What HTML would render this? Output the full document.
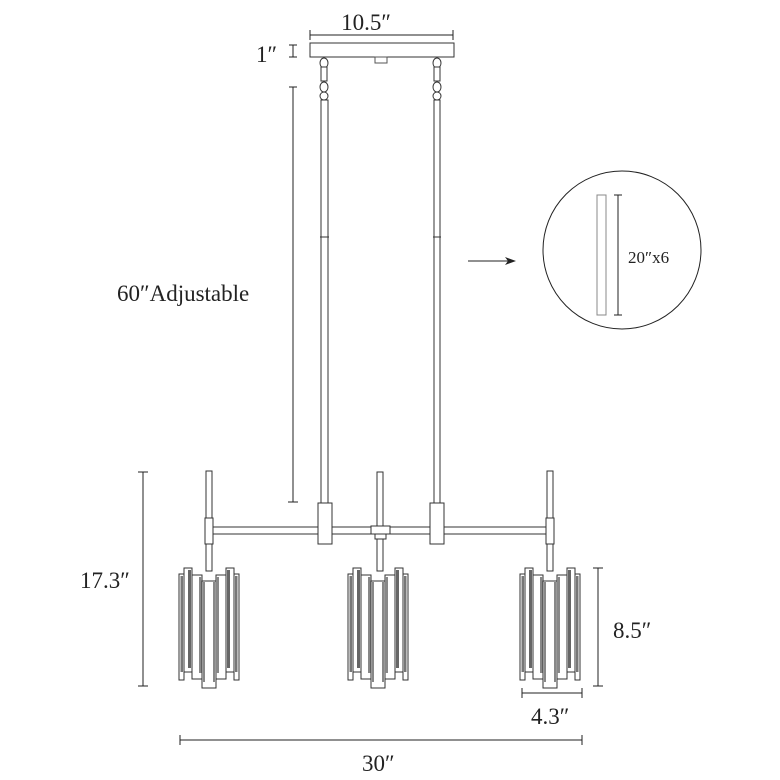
<!DOCTYPE html>
<html><head><style>
html,body{margin:0;padding:0;background:#fff}
svg{display:block}
text{font-family:"Liberation Serif",serif;fill:#222}
</style></head><body>
<svg width="780" height="780" viewBox="0 0 780 780" xmlns="http://www.w3.org/2000/svg">
<defs>
<g id="shade" fill="#fff" stroke="#333" stroke-width="1">
  <rect x="0" y="6" width="5" height="106"/>
  <rect x="1.5" y="8" width="2.5" height="96" fill="#777" stroke="none"/>
  <rect x="5" y="0" width="8" height="104"/>
  <rect x="9" y="2" width="3" height="98" fill="#666" stroke="none"/>
  <rect x="13" y="7" width="10" height="104"/>
  <rect x="20" y="9" width="3" height="96" fill="#888" stroke="none"/>
  <rect x="23" y="13" width="14" height="107"/>
  <rect x="24" y="14" width="2" height="100" fill="#888" stroke="none"/>
  <rect x="34" y="14" width="2" height="100" fill="#888" stroke="none"/>
  <rect x="37" y="7" width="10" height="104"/>
  <rect x="37" y="9" width="3" height="96" fill="#888" stroke="none"/>
  <rect x="47" y="0" width="8" height="104"/>
  <rect x="48" y="2" width="3" height="98" fill="#666" stroke="none"/>
  <rect x="55" y="6" width="5" height="106"/>
  <rect x="56" y="8" width="2.5" height="96" fill="#777" stroke="none"/>
</g>
</defs>

<line x1="310" y1="35" x2="453" y2="35" stroke="#222"/>
<line x1="310" y1="30" x2="310" y2="40" stroke="#222"/>
<line x1="453" y1="30" x2="453" y2="40" stroke="#222"/>
<text x="366" y="30" font-size="23" text-anchor="middle">10.5″</text>
<rect x="310" y="43" width="144" height="14" fill="#fff" stroke="#333"/>
<rect x="375" y="57" width="12" height="6" fill="#fff" stroke="#555"/>
<text x="256" y="62" font-size="23">1″</text>
<line x1="293" y1="45" x2="293" y2="57" stroke="#222"/>
<line x1="289" y1="45" x2="297" y2="45" stroke="#222"/>
<line x1="289" y1="57" x2="297" y2="57" stroke="#222"/>

<g fill="#fff" stroke="#333">
<ellipse cx="324" cy="63" rx="4" ry="5"/><rect x="321" y="67" width="6" height="14"/><ellipse cx="324" cy="87" rx="4" ry="5"/><ellipse cx="324" cy="96" rx="4" ry="4"/>
<ellipse cx="437" cy="63" rx="4" ry="5"/><rect x="434" y="67" width="6" height="14"/><ellipse cx="437" cy="87" rx="4" ry="5"/><ellipse cx="437" cy="96" rx="4" ry="4"/>
<rect x="321" y="100" width="7" height="405"/>
<rect x="434" y="100" width="6" height="405"/>
</g>
<line x1="320" y1="237" x2="329" y2="237" stroke="#333"/>
<line x1="433" y1="237" x2="441" y2="237" stroke="#333"/>

<line x1="293" y1="87" x2="293" y2="502" stroke="#222"/>
<line x1="289" y1="87" x2="297" y2="87" stroke="#222"/>
<line x1="288" y1="502" x2="298" y2="502" stroke="#222"/>
<text x="117" y="301" font-size="23">60″Adjustable</text>

<line x1="468" y1="261" x2="510" y2="261" stroke="#222"/>
<polygon points="516,261 505,257 508,261 505,265" fill="#222"/>
<circle cx="622" cy="250" r="79" fill="none" stroke="#222"/>
<rect x="597" y="195" width="9" height="120" fill="#fff" stroke="#888"/>
<line x1="618" y1="195" x2="618" y2="315" stroke="#222"/>
<line x1="614" y1="195" x2="622" y2="195" stroke="#222"/>
<line x1="614" y1="315" x2="622" y2="315" stroke="#222"/>
<text x="628" y="263" font-size="17">20″x6</text>

<g fill="#fff" stroke="#333">
<rect x="206" y="471" width="6" height="100"/>
<rect x="377" y="472" width="6" height="99"/>
<rect x="547" y="471" width="6" height="100"/>
<rect x="212" y="527" width="342" height="7"/>
<rect x="205" y="518" width="8" height="26"/>
<rect x="318" y="503" width="14" height="41"/>
<rect x="430" y="503" width="14" height="41"/>
<rect x="371" y="526" width="19" height="8"/>
<rect x="375" y="534" width="11" height="5"/>
<rect x="546" y="518" width="8" height="26"/>
</g>

<use href="#shade" x="179" y="568"/>
<use href="#shade" x="348" y="568"/>
<use href="#shade" x="520" y="568"/>

<line x1="143" y1="472" x2="143" y2="686" stroke="#222"/>
<line x1="138" y1="472" x2="148" y2="472" stroke="#222"/>
<line x1="138" y1="686" x2="148" y2="686" stroke="#222"/>
<text x="80" y="588" font-size="23">17.3″</text>
<line x1="598" y1="568" x2="598" y2="686" stroke="#222"/>
<line x1="593" y1="568" x2="603" y2="568" stroke="#222"/>
<line x1="593" y1="686" x2="603" y2="686" stroke="#222"/>
<text x="613" y="638" font-size="23">8.5″</text>
<line x1="522" y1="693" x2="582" y2="693" stroke="#222"/>
<line x1="522" y1="688" x2="522" y2="698" stroke="#222"/>
<line x1="582" y1="688" x2="582" y2="698" stroke="#222"/>
<text x="531" y="724" font-size="23">4.3″</text>
<line x1="180" y1="740" x2="582" y2="740" stroke="#222"/>
<line x1="180" y1="735" x2="180" y2="745" stroke="#222"/>
<line x1="582" y1="735" x2="582" y2="745" stroke="#222"/>
<text x="362" y="771" font-size="23">30″</text>
</svg>
</body></html>
